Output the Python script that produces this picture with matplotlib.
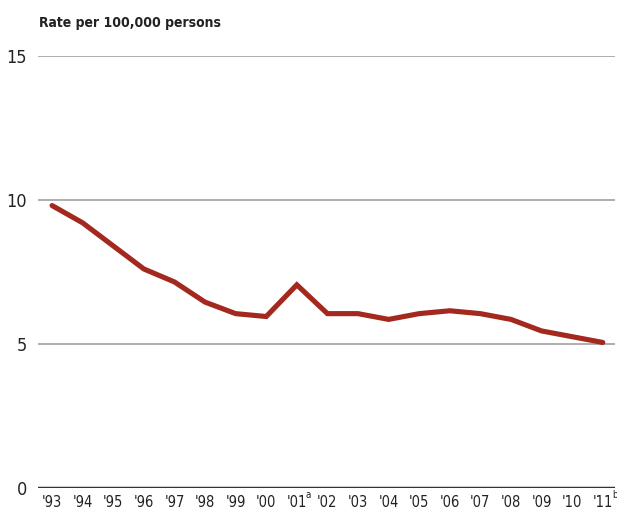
import matplotlib
matplotlib.use("Agg")
import matplotlib.pyplot as plt
import matplotlib.transforms as mtransforms

years = ["'93", "'94", "'95", "'96", "'97", "'98", "'99", "'00", "'01", "'02",
         "'03", "'04", "'05", "'06", "'07", "'08", "'09", "'10", "'11"]
values = [9.8, 9.2, 8.4, 7.6, 7.15, 6.45, 6.05, 5.95, 7.05, 6.05,
          6.05, 5.85, 6.05, 6.15, 6.05, 5.85, 5.45, 5.25, 5.05]
yticks = [0, 5, 10, 15]
footnotes = {"'01": "a", "'11": "b"}

plt.rcParams['font.family'] = ['DejaVu Sans']
plt.rcParams['font.stretch'] = 'condensed'

fig = plt.figure(figsize=(6.17, 5.14), dpi=100)
ax = fig.add_axes([38/617, 1 - 488/514, (615-38)/617, (488-55.7)/514])

x = list(range(len(years)))
ax.plot(x, values, color="#a3281e", lw=3.7, solid_capstyle="round", solid_joinstyle="miter", zorder=3)

for yt in yticks[1:]:
    ax.axhline(yt, color="#a8a8a8", lw=1.3, zorder=1)
ax.axhline(0, color="#333333", lw=2.5, zorder=2)

ax.set_ylim(0, 15)
ax.set_xlim(-0.46, 18.4)
ax.set_yticks(yticks)
ax.set_yticklabels([str(v) for v in yticks], fontsize=13, color="#222222", fontstretch='condensed')
ax.set_xticks(x)
ax.set_xticklabels(years, fontsize=10.5, color="#222222", fontstretch='condensed')
ax.tick_params(axis="both", length=0)
ax.tick_params(axis="y", pad=8)
ax.tick_params(axis="x", pad=5)
for s in ax.spines.values():
    s.set_visible(False)

trans = mtransforms.blended_transform_factory(ax.transData, ax.transAxes)
for lab, note in footnotes.items():
    i = years.index(lab)
    ax.text(i, 0, note, transform=trans + mtransforms.ScaledTranslation(6.6/72, -5/72, fig.dpi_scale_trans),
            fontsize=7, color="#222222", ha="left", va="center", fontstretch='condensed')

fig.text(39/617, 1 - 23/514, "Rate per 100,000 persons", fontsize=10, fontweight="bold",
         color="#222222", ha="left", va="center", fontstretch='condensed')

fig.savefig("out.png", dpi=100, facecolor="white")
